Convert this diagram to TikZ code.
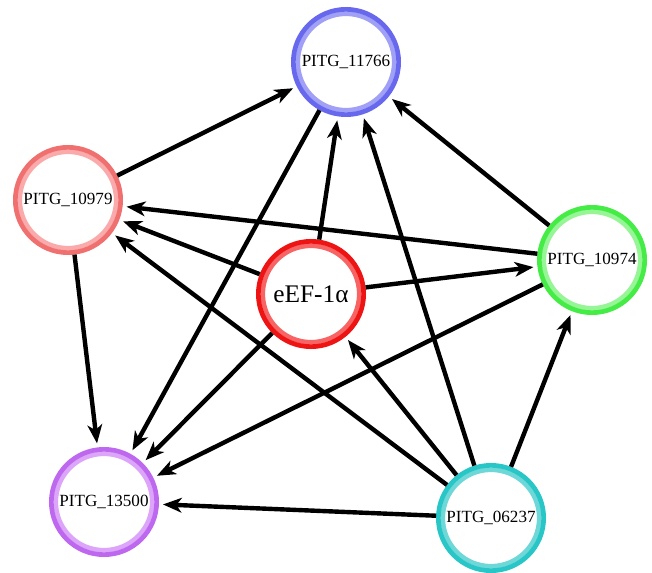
\documentclass[tikz,border=0pt]{standalone}
\usepackage{fontspec}
\setmainfont{Liberation Serif}
\usetikzlibrary{arrows.meta}

\definecolor{blueD}{RGB}{104,104,238}
\definecolor{blueL}{RGB}{160,160,246}
\definecolor{pinkD}{RGB}{240,112,112}
\definecolor{pinkL}{RGB}{250,170,170}
\definecolor{redD}{RGB}{238,20,20}
\definecolor{redL}{RGB}{248,100,100}
\definecolor{greenD}{RGB}{70,236,70}
\definecolor{greenL}{RGB}{150,246,150}
\definecolor{violetD}{RGB}{190,104,240}
\definecolor{violetL}{RGB}{220,165,250}
\definecolor{cyanD}{RGB}{40,198,198}
\definecolor{cyanL}{RGB}{110,216,216}

\tikzset{gene/.style 2 args={circle, draw=#1, line width=3.5pt, fill=white,
    minimum size=79pt, inner sep=0pt,
    font=\fontsize{12.8}{14}\selectfont,
    path picture={\draw[#2, line width=3.5pt] (path picture bounding box.center) circle (36.2pt);}}}
\tikzstyle{edge} = [line width=3.3pt, -{Stealth[length=14pt,width=11pt,inset=4pt]}, shorten >=3pt]

\begin{document}
\begin{tikzpicture}[x=0.75pt, y=-0.75pt]
       \useasboundingbox (0,0) rectangle (652,573);

       \node[gene={blueD}{blueL}] (g11766) at (346,62) {PITG\_11766};
       \node[gene={pinkD}{pinkL}] (g10979) at (68,200) {PITG\_10979};
       \node[gene={redD}{redL}, font=\fontsize{19}{22}\selectfont] (eef) at (311,294) {eEF-1α};
       \node[gene={greenD}{greenL}] (g10974) at (592,260) {PITG\_10974};
       \node[gene={violetD}{violetL}] (g13500) at (104,502) {PITG\_13500};
       \node[gene={cyanD}{cyanL}] (g06237) at (491,518) {PITG\_06237};

       \draw[edge] (g10979) -- (g11766);
       \draw[edge] (g10974) -- (g11766);
       \draw[edge] (eef) -- (g11766);
       \draw[edge] (g06237) -- (g11766);
       \draw[edge] (g11766) -- (g13500);
       \draw[edge] (g10974) -- (g10979);
       \draw[edge] (eef) -- (g10979);
       \draw[edge] (g06237) -- (g10979);
       \draw[edge] (eef) -- (g10974);
       \draw[edge] (g10979) -- (g13500);
       \draw[edge] (eef) -- (g13500);
       \draw[edge] (g10974) -- (g13500);
       \draw[edge] (g06237) -- (g13500);
       \draw[edge] (g06237) -- (eef);
       \draw[edge] (g06237) -- (g10974);
\end{tikzpicture}
\end{document}
